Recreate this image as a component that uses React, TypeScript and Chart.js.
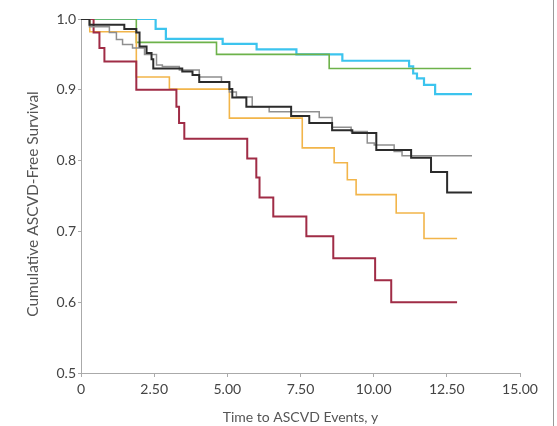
import React, { useEffect, useRef } from "react";
import { Chart, registerables } from "chart.js";

Chart.register(...registerables);

// Time (years) at which each survival step occurs, and survival after the step
const blackTimes = [0, 0.29, 1.48, 1.89, 2.0, 2.24, 2.41, 2.47, 3.46, 3.81, 4.04, 5.07, 5.17, 5.65, 7.18, 7.8, 8.58, 9.27, 10.09, 11.28, 11.96, 12.51, 13.36];
const blackSurv = [1.0, 0.992, 0.986, 0.981, 0.961, 0.952, 0.943, 0.93, 0.926, 0.921, 0.911, 0.901, 0.889, 0.876, 0.863, 0.853, 0.843, 0.839, 0.815, 0.804, 0.784, 0.755, 0.755];

const grayTimes = [0, 0.29, 0.97, 1.21, 1.42, 1.76, 2.17, 2.58, 2.78, 3.36, 4.04, 4.8, 5.07, 5.31, 5.85, 6.43, 8.14, 8.58, 9.23, 9.78, 10.02, 10.7, 10.97, 13.36];
const graySurv = [1.0, 0.989, 0.981, 0.971, 0.964, 0.959, 0.95, 0.935, 0.933, 0.928, 0.918, 0.911, 0.897, 0.89, 0.876, 0.869, 0.861, 0.847, 0.841, 0.825, 0.822, 0.813, 0.807, 0.807];

const redTimes = [0, 0.43, 0.63, 0.8, 1.89, 3.26, 3.35, 3.53, 5.68, 5.99, 6.1, 6.57, 7.7, 8.62, 10.05, 10.6, 12.85];
const redSurv = [1.0, 0.981, 0.959, 0.94, 0.9, 0.876, 0.853, 0.831, 0.803, 0.776, 0.748, 0.721, 0.693, 0.662, 0.631, 0.6, 0.6];

const orangeTimes = [0, 0.3, 1.89, 3.02, 5.07, 7.56, 8.65, 9.1, 9.4, 10.77, 11.72, 12.85];
const orangeSurv = [1.0, 0.982, 0.918, 0.901, 0.86, 0.818, 0.797, 0.773, 0.752, 0.726, 0.69, 0.69];

const greenTimes = [0, 1.89, 4.63, 8.48, 13.33];
const greenSurv = [1.0, 0.967, 0.95, 0.93, 0.93];

const cyanTimes = [0, 2.55, 2.9, 4.84, 6.0, 7.36, 8.93, 11.21, 11.35, 11.48, 11.72, 12.1, 13.36];
const cyanSurv = [1.0, 0.986, 0.972, 0.965, 0.957, 0.95, 0.941, 0.933, 0.923, 0.916, 0.907, 0.894, 0.894];

const xTicks = [0, 2.5, 5, 7.5, 10, 12.5, 15];
const yTicks = [0.5, 0.6, 0.7, 0.8, 0.9, 1.0];

const xTitle = "Time to ASCVD Events, y";
const yTitle = "Cumulative ASCVD-Free Survival";

const FONT = "Lato, 'Liberation Sans', sans-serif";

function pts(t: number[], s: number[]) {
  return t.map((x, i) => ({ x, y: s[i] }));
}

export default function App() {
  const ref = useRef<HTMLCanvasElement | null>(null);

  useEffect(() => {
    if (!ref.current) return;
    const mk = (label: string, t: number[], s: number[], color: string, width: number) => ({
      label,
      data: pts(t, s),
      borderColor: color,
      backgroundColor: color,
      borderWidth: width,
      pointRadius: 0,
      stepped: "before" as const,
      fill: false,
    });

    const yTitlePlugin = {
      id: "yTitlePlugin",
      afterDraw(chart: any) {
        const ctx = chart.ctx;
        ctx.save();
        ctx.translate(33, 204);
        ctx.rotate(-Math.PI / 2);
        ctx.font = `15.5px ${FONT}`;
        ctx.fillStyle = "#555";
        ctx.textAlign = "center";
        ctx.textBaseline = "middle";
        ctx.fillText(yTitle, 0, 0);
        ctx.restore();
      },
    };

    const chart = new Chart(ref.current, {
      type: "line",
      data: {
        datasets: [
          mk("Black", blackTimes, blackSurv, "#2b2b2b", 2),
          mk("Gray", grayTimes, graySurv, "#8f8f8f", 1.5),
          mk("Red", redTimes, redSurv, "#a02c46", 2),
          mk("Orange", orangeTimes, orangeSurv, "#f2b54a", 1.6),
          mk("Green", greenTimes, greenSurv, "#6db24a", 1.6),
          mk("Cyan", cyanTimes, cyanSurv, "#3cc4ee", 2.2),
        ],
      },
      options: {
        animation: false,
        responsive: true,
        maintainAspectRatio: false,
        layout: { padding: { top: 19, right: 33, left: 0, bottom: 0 } },
        plugins: { legend: { display: false }, tooltip: { enabled: false } },
        scales: {
          x: {
            type: "linear",
            min: 0,
            max: 15,
            afterBuildTicks: (scale: any) => {
              scale.ticks = xTicks.map((v) => ({ value: v }));
            },
            afterFit: (scale: any) => {
              scale.height = 53;
            },
            ticks: {
              callback: (v: any) => (Number(v) === 0 ? "0" : Number(v).toFixed(2)),
              color: "#444",
              font: { family: FONT, size: 14 },
              padding: 4,
              maxRotation: 0,
              autoSkip: false,
            },
            grid: { display: true, drawOnChartArea: false, drawTicks: true, tickLength: 4, color: "#aaa" },
            border: { display: true, color: "#aaa", width: 1 },
            title: {
              display: true,
              text: xTitle,
              color: "#555",
              font: { family: FONT, size: 14 },
              padding: { top: 0, bottom: 0 },
            },
          },
          y: {
            type: "linear",
            min: 0.5,
            max: 1.0,
            afterBuildTicks: (scale: any) => {
              scale.ticks = yTicks.map((v) => ({ value: v }));
            },
            afterFit: (scale: any) => {
              scale.width = 81;
            },
            ticks: {
              callback: (v: any) => Number(v).toFixed(1),
              color: "#444",
              font: { family: FONT, size: 14 },
              padding: 2,
            },
            grid: { display: true, drawOnChartArea: false, drawTicks: true, tickLength: 3, color: "#aaa" },
            border: { display: true, color: "#aaa", width: 1 },
          },
        },
      },
      plugins: [yTitlePlugin],
    });
    return () => chart.destroy();
  }, []);

  return (
    <div
      style={{
        position: "fixed",
        left: 0,
        top: 0,
        width: 553,
        height: 426,
        borderRight: "1px solid #999",
        background: "#fff",
      }}
    >
      <canvas ref={ref} />
    </div>
  );
}
